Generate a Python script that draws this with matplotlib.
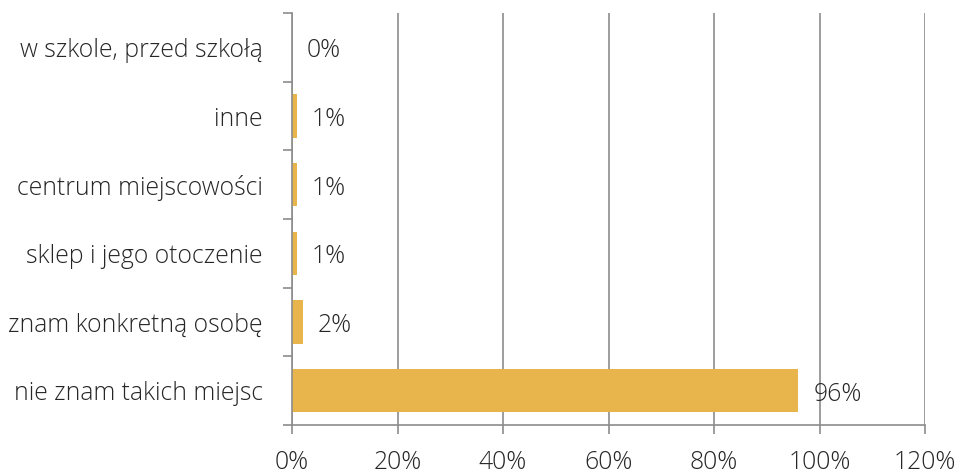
import numpy as np
import matplotlib
matplotlib.use("Agg")
import matplotlib.pyplot as plt
from matplotlib.ticker import FixedLocator

plt.rcParams['font.family'] = ['Open Sans', 'DejaVu Sans']

categories = ["w szkole, przed szkołą", "inne", "centrum miejscowości",
              "sklep i jego otoczenie", "znam konkretną osobę", "nie znam takich miejsc"]
values = [0, 1, 1, 1, 2, 96]
value_labels = ["0%", "1%", "1%", "1%", "2%", "96%"]
xticks = [0, 20, 40, 60, 80, 100, 120]
xtick_labels = ["0%", "20%", "40%", "60%", "80%", "100%", "120%"]

bar_color = "#E8B54C"
grid_color = "#8C8C8C"
text_color = "#262626"
fs = 17.8

fig = plt.figure(figsize=(9.57, 4.75), dpi=100)
ax = fig.add_axes([292/957, 1 - 425/475, (925 - 292)/957, (425 - 13)/475])

n = len(categories)
ypos = np.arange(n)
ax.barh(ypos, values, height=0.63, color=bar_color, zorder=3)
ax.set_ylim(n - 0.5, -0.5)
ax.set_xlim(0, 120)

ax.set_yticks(ypos)
ax.set_yticklabels(categories, fontsize=fs, color=text_color, fontweight='light')
ax.tick_params(axis='y', length=0, pad=21)
ax.yaxis.set_minor_locator(FixedLocator(np.arange(-0.5, n, 1)))
ax.tick_params(axis='y', which='minor', length=6.5, color=grid_color, width=1.2)

ax.set_xticks(xticks)
ax.set_xticklabels(xtick_labels, fontsize=fs, color=text_color, fontweight='light')
ax.tick_params(axis='x', length=6.5, color=grid_color, width=1.2, pad=11.5)

ax.grid(axis='x', color=grid_color, linewidth=1.2, zorder=0)
for s in ['top', 'right']:
    ax.spines[s].set_visible(False)
for s in ['left', 'bottom']:
    ax.spines[s].set_color(grid_color)
    ax.spines[s].set_linewidth(1.2)
    ax.spines[s].set_zorder(4)

for y, v, lab in zip(ypos, values, value_labels):
    ax.text(v + 2.8, y + 0.05, lab, va='center', ha='left', fontsize=fs,
            color=text_color, fontweight='light')

fig.savefig("out.png", dpi=100)
